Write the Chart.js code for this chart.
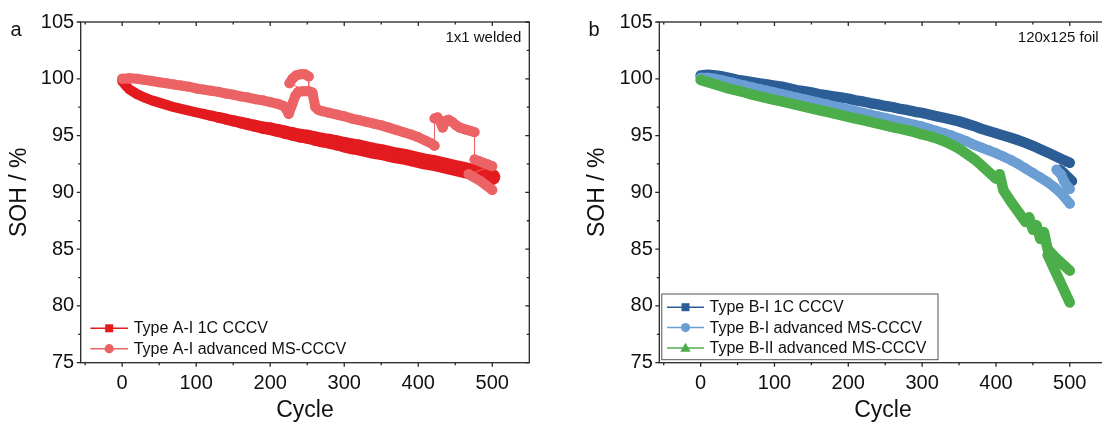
<!DOCTYPE html>
<html>
<head>
<meta charset="utf-8">
<title>SOH vs cycle</title>
<script src="https://cdn.jsdelivr.net/npm/chart.js@4.4.0/dist/chart.umd.min.js"></script>
<style>
  html, body { margin: 0; padding: 0; background: #fff; overflow: hidden; }
  body { width: 1102px; height: 426px; position: relative; }
  .panel { position: absolute; top: 0; height: 426px; }
  #panelA { left: 0; width: 551px; }
  #panelB { left: 578px; width: 550px; }
</style>
</head>
<body>
<div class="panel" id="panelA"><canvas id="chartA"></canvas></div>
<div class="panel" id="panelB"><canvas id="chartB"></canvas></div>
<script>
// axis ticks
const xTicks = [0, 100, 200, 300, 400, 500];
const xMinor = [-50, 50, 150, 250, 350, 450];
const yTicks = [75, 80, 85, 90, 95, 100, 105];
const yMinor = [77.5, 82.5, 87.5, 92.5, 97.5, 102.5];

// panel a: Type A-I 1C CCCV
const cyclesA1 = [0, 5, 10, 20, 30, 40, 50, 60, 70, 80, 90, 100, 110, 120, 130, 140, 150, 160, 170, 180, 190,
  200, 210, 220, 230, 240, 250, 260, 270, 280, 290, 300, 310, 320, 330, 340, 350, 360, 370, 380, 390,
  400, 410, 420, 430, 440, 450, 460, 470, 480, 490, 500];
const sohA1 = [99.8, 99.4, 99.05, 98.65, 98.35, 98.1, 97.9, 97.7, 97.5, 97.35, 97.2, 97.05, 96.9, 96.75, 96.6,
  96.45, 96.3, 96.15, 96.0, 95.85, 95.7, 95.6, 95.45, 95.3, 95.15, 95.0, 94.9, 94.75, 94.6, 94.5, 94.35,
  94.2, 94.05, 93.95, 93.8, 93.65, 93.55, 93.4, 93.25, 93.15, 93.0, 92.85, 92.7, 92.6, 92.45, 92.3,
  92.15, 92.0, 91.85, 91.7, 91.5, 91.35];

// panel a: Type A-I advanced MS-CCCV (points in recorded order, incl. recovery jumps)
const cyclesA2 = [0, 10, 20, 30, 40, 50, 60, 70, 80, 90, 100, 110, 120, 130, 140, 150, 160, 170, 180, 190, 200, 210, 218, 222, 225,
  230, 234, 238, 244, 250,
  226, 230, 235, 241, 247, 252,
  252, 257, 261, 265, 270, 280, 290, 300, 310, 320, 330, 340, 350, 360, 370, 380, 390, 400, 410, 418, 422,
  422, 426, 430, 433, 437, 441, 446, 451, 456, 461, 466, 471, 476,
  476, 482, 488, 494, 500,
  468, 476, 484, 492, 500];
const sohA2 = [100.0, 100.05, 100.0, 99.9, 99.8, 99.7, 99.6, 99.5, 99.4, 99.3, 99.15, 99.05, 98.95, 98.85, 98.7, 98.6,
  98.45, 98.35, 98.2, 98.1, 97.95, 97.8, 97.6, 97.3, 96.9,
  97.8, 98.5, 98.85, 98.9, 98.9,
  99.6, 100.0, 100.3, 100.4, 100.4, 100.2,
  98.9, 98.8, 97.5, 97.25, 97.15, 97.0, 96.85, 96.7, 96.5, 96.35, 96.2, 96.05, 95.9, 95.7, 95.5, 95.3, 95.1,
  94.85, 94.55, 94.3, 94.1,
  96.5, 96.6, 96.2, 95.7, 96.3, 96.4, 96.2, 95.9, 95.7, 95.6, 95.5, 95.4, 95.3,
  92.9, 92.75, 92.6, 92.45, 92.3,
  91.6, 91.3, 91.0, 90.6, 90.2];

// panel b
const cyclesB = [0, 10, 20, 30, 40, 50, 60, 70, 80, 90, 100, 110, 120, 130, 140, 150, 160, 170, 180, 190,
  200, 210, 220, 230, 240, 250, 260, 270, 280, 290, 300, 310, 320, 330, 340, 350, 360, 370, 380, 390,
  400, 410, 420, 430, 440, 450, 460, 470, 480, 490, 500];

// Type B-I 1C CCCV
const sohB1 = [100.3, 100.35, 100.3, 100.2, 100.05, 99.9, 99.8, 99.7, 99.6, 99.5, 99.4, 99.3, 99.15, 99.0, 98.9,
  98.8, 98.65, 98.55, 98.45, 98.35, 98.25, 98.1, 98.0, 97.85, 97.75, 97.6, 97.5, 97.35, 97.25, 97.1,
  97.0, 96.85, 96.7, 96.55, 96.4, 96.25, 96.05, 95.85, 95.6, 95.4, 95.2, 95.0, 94.8, 94.6, 94.35,
  94.1, 93.8, 93.5, 93.2, 92.9, 92.6];
const tailCyclesB1 = [486, 492, 498, 503];
const tailSohB1 = [92.0, 91.7, 91.3, 91.0];

// Type B-I advanced MS-CCCV
const sohB2 = [100.1, 100.1, 100.0, 99.85, 99.7, 99.55, 99.4, 99.25, 99.1, 98.95, 98.8, 98.65, 98.5, 98.35, 98.2,
  98.05, 97.9, 97.75, 97.6, 97.45, 97.3, 97.15, 97.0, 96.85, 96.7, 96.55, 96.4, 96.25, 96.1, 95.95,
  95.8, 95.6, 95.4, 95.2, 95.0, 94.75, 94.5, 94.2, 93.95, 93.7, 93.45, 93.15, 92.85, 92.5, 92.1,
  91.7, 91.3, 90.9, 90.4, 89.8, 89.0];
const tailCyclesB2 = [482, 488, 492, 496, 500];
const tailSohB2 = [92.0, 91.6, 91.0, 90.6, 90.3];

// Type B-II advanced MS-CCCV
const cyclesB3 = [0, 10, 20, 30, 40, 50, 60, 70, 80, 90, 100, 110, 120, 130, 140, 150, 160, 170, 180, 190,
  200, 210, 220, 230, 240, 250, 260, 270, 280, 290, 300, 310, 320, 330, 340, 350, 360, 370, 380, 390, 400,
  405, 410, 420, 430, 440, 445, 450, 455, 460, 465, 470, 480, 490, 500,
  470, 480, 490, 500];
const sohB3 = [99.9, 99.7, 99.5, 99.3, 99.1, 98.95, 98.8, 98.6, 98.45, 98.3, 98.15, 98.0, 97.85, 97.7, 97.55,
  97.4, 97.25, 97.1, 96.95, 96.8, 96.65, 96.5, 96.35, 96.2, 96.05, 95.9, 95.75, 95.6, 95.45, 95.3,
  95.1, 94.95, 94.75, 94.5, 94.2, 93.85, 93.4, 92.95, 92.4, 91.8, 91.2,
  91.6, 90.2, 89.2, 88.3, 87.4, 87.8, 86.7, 87.1, 85.9, 86.5, 85.0, 84.3, 83.7, 83.1,
  84.5, 83.1, 81.7, 80.3];

const FONT = '"Liberation Sans", Arial, Helvetica, sans-serif';
const pts = (xs, ys) => xs.map((x, i) => ({ x: x, y: ys[i] }));

// thick band between consecutive readings, hairline where the record jumps back or straight up/down
function segWidth(ctx, band) {
  if (ctx.p1.x <= ctx.p0.x + 0.3) return 1;
  const c = ctx.chart.scales.x.getValueForPixel(ctx.p0.x);
  return typeof band === 'function' ? band(c) : band;
}

function drawMarker(ctx, style, x, y, color) {
  ctx.fillStyle = color;
  ctx.beginPath();
  if (style === 'rect') {
    ctx.rect(x - 4, y - 4, 8, 8);
  } else if (style === 'circle') {
    ctx.arc(x, y, 4.6, 0, Math.PI * 2);
  } else {
    ctx.moveTo(x, y - 5.2);
    ctx.lineTo(x + 5.2, y + 3.8);
    ctx.lineTo(x - 5.2, y + 3.8);
    ctx.closePath();
  }
  ctx.fill();
}

// frame with ticks on all four sides
const framePlugin = {
  id: 'frame',
  afterDatasetsDraw(chart) {
    const { ctx, chartArea: a } = chart;
    const x = chart.scales.x, y = chart.scales.y;
    ctx.save();
    ctx.strokeStyle = '#262626';
    ctx.lineWidth = 1.3;
    ctx.strokeRect(a.left, a.top, a.right - a.left, a.bottom - a.top);
    ctx.beginPath();
    const xt = (v, len) => {
      const px = x.getPixelForValue(v);
      ctx.moveTo(px, a.bottom); ctx.lineTo(px, a.bottom + len);
      ctx.moveTo(px, a.top); ctx.lineTo(px, a.top + len);
    };
    const yt = (v, len) => {
      const py = y.getPixelForValue(v);
      ctx.moveTo(a.left, py); ctx.lineTo(a.left - len, py);
      ctx.moveTo(a.right, py); ctx.lineTo(a.right - len, py);
    };
    xTicks.forEach(v => xt(v, 4));
    xMinor.forEach(v => xt(v, 2.5));
    yTicks.forEach(v => yt(v, 4));
    yMinor.forEach(v => yt(v, 2.5));
    ctx.stroke();
    ctx.restore();
  }
};

// panel letter, corner note and the inset legend
const decorPlugin = {
  id: 'panelDecor',
  afterDraw(chart, args, o) {
    const { ctx, chartArea: a } = chart;
    ctx.save();
    ctx.fillStyle = '#111';
    ctx.textBaseline = 'alphabetic';
    ctx.textAlign = 'center';
    ctx.font = '20px ' + FONT;
    ctx.fillText(o.letter, 16, 36);
    ctx.textAlign = 'right';
    ctx.textBaseline = 'middle';
    ctx.font = '15px ' + FONT;
    ctx.fillText(o.note, a.right - 8, a.top + 16);

    const sets = chart.data.datasets;
    const n = sets.length;
    if (o.box) {
      ctx.fillStyle = '#fff';
      ctx.strokeStyle = '#555';
      ctx.lineWidth = 1;
      const bx = a.left + o.box.x0, by = a.bottom - o.box.top;
      ctx.fillRect(bx, by, o.box.x1 - o.box.x0, o.box.top - o.box.bottom);
      ctx.strokeRect(bx, by, o.box.x1 - o.box.x0, o.box.top - o.box.bottom);
    }
    ctx.font = '16px ' + FONT;
    ctx.textAlign = 'left';
    sets.forEach((ds, i) => {
      const yy = a.bottom - o.rowBottom - (n - 1 - i) * o.rowGap;
      ctx.strokeStyle = ds.borderColor;
      ctx.lineWidth = 1.5;
      ctx.beginPath();
      ctx.moveTo(a.left + o.lineX0, yy);
      ctx.lineTo(a.left + o.lineX1, yy);
      ctx.stroke();
      drawMarker(ctx, ds.pointStyle, a.left + (o.lineX0 + o.lineX1) / 2, yy, ds.borderColor);
      ctx.fillStyle = '#111';
      ctx.fillText(ds.label, a.left + o.textX, yy + 0.5);
    });
    ctx.restore();
  }
};

function makePanel(id, series, decor) {
  return new Chart(document.getElementById(id), {
    type: 'scatter',
    data: {
      datasets: series.map(s => ({
        label: s.label,
        data: s.data,
        showLine: true,
        borderColor: s.color,
        backgroundColor: s.color,
        pointStyle: s.marker,
        pointRadius: 5,
        pointHoverRadius: 5,
        pointBorderWidth: 0,
        borderJoinStyle: 'round',
        borderCapStyle: 'round',
        order: s.order,
        segment: { borderWidth: ctx => segWidth(ctx, s.band) }
      }))
    },
    options: {
      responsive: true,
      maintainAspectRatio: false,
      animation: false,
      events: [],
      layout: { padding: { left: 0, right: decor.padRight, top: 22, bottom: 0 } },
      plugins: {
        legend: { display: false },
        tooltip: { enabled: false },
        panelDecor: decor
      },
      scales: {
        x: {
          type: 'linear',
          min: -56,
          max: 550,
          afterBuildTicks: s => { s.ticks = xTicks.map(v => ({ value: v })); },
          afterFit: s => { s.height = 63.3; },
          grid: { display: false, drawTicks: false },
          border: { display: false },
          ticks: { color: '#111', font: { family: FONT, size: 20 }, padding: 8.5, autoSkip: false, maxRotation: 0 },
          title: { display: true, text: 'Cycle', color: '#111', font: { family: FONT, size: 23 }, padding: { top: 0, bottom: 2 } }
        },
        y: {
          type: 'linear',
          min: 75,
          max: 105,
          afterBuildTicks: s => { s.ticks = yTicks.map(v => ({ value: v })); },
          afterFit: s => { s.width = decor.yWidth; },
          grid: { display: false, drawTicks: false },
          border: { display: false },
          ticks: { color: '#111', font: { family: FONT, size: 20 }, padding: 6.5, autoSkip: false },
          title: { display: true, text: 'SOH / %', color: '#111', font: { family: FONT, size: 23 }, padding: { top: 6, bottom: 0 } }
        }
      }
    },
    plugins: [framePlugin, decorPlugin]
  });
}

makePanel('chartA', [
  { label: 'Type A-I 1C CCCV', data: pts(cyclesA1, sohA1), color: '#e31b1f', marker: 'rect', order: 2,
    band: c => 10 + 6 * Math.min(1, Math.max(0, (c - 100) / 220)) },
  { label: 'Type A-I advanced MS-CCCV', data: pts(cyclesA2, sohA2), color: '#ec6365', marker: 'circle', order: 1,
    band: 10 }
], {
  letter: 'a', note: '1x1 welded', padRight: 21.7, yWidth: 80.7,
  rowBottom: 14, rowGap: 20.4, lineX0: 9.7, lineX1: 47.3, textX: 53, box: null
});

makePanel('chartB', [
  { label: 'Type B-I 1C CCCV', data: pts(cyclesB.concat(tailCyclesB1), sohB1.concat(tailSohB1)),
    color: '#2c5e95', marker: 'rect', order: 3, band: 10.5 },
  { label: 'Type B-I advanced MS-CCCV', data: pts(cyclesB.concat(tailCyclesB2), sohB2.concat(tailSohB2)),
    color: '#6b9fd4', marker: 'circle', order: 2, band: 10 },
  { label: 'Type B-II advanced MS-CCCV', data: pts(cyclesB3, sohB3),
    color: '#4cae4a', marker: 'triangle', order: 1, band: 10.5 }
], {
  letter: 'b', note: '120x125 foil', padRight: 21.3, yWidth: 81.3,
  rowBottom: 14.7, rowGap: 20.4, lineX0: 7.7, lineX1: 44.7, textX: 50.2,
  box: { x0: 2.5, x1: 278.7, top: 68.7, bottom: 3 }
});
</script>
</body>
</html>
